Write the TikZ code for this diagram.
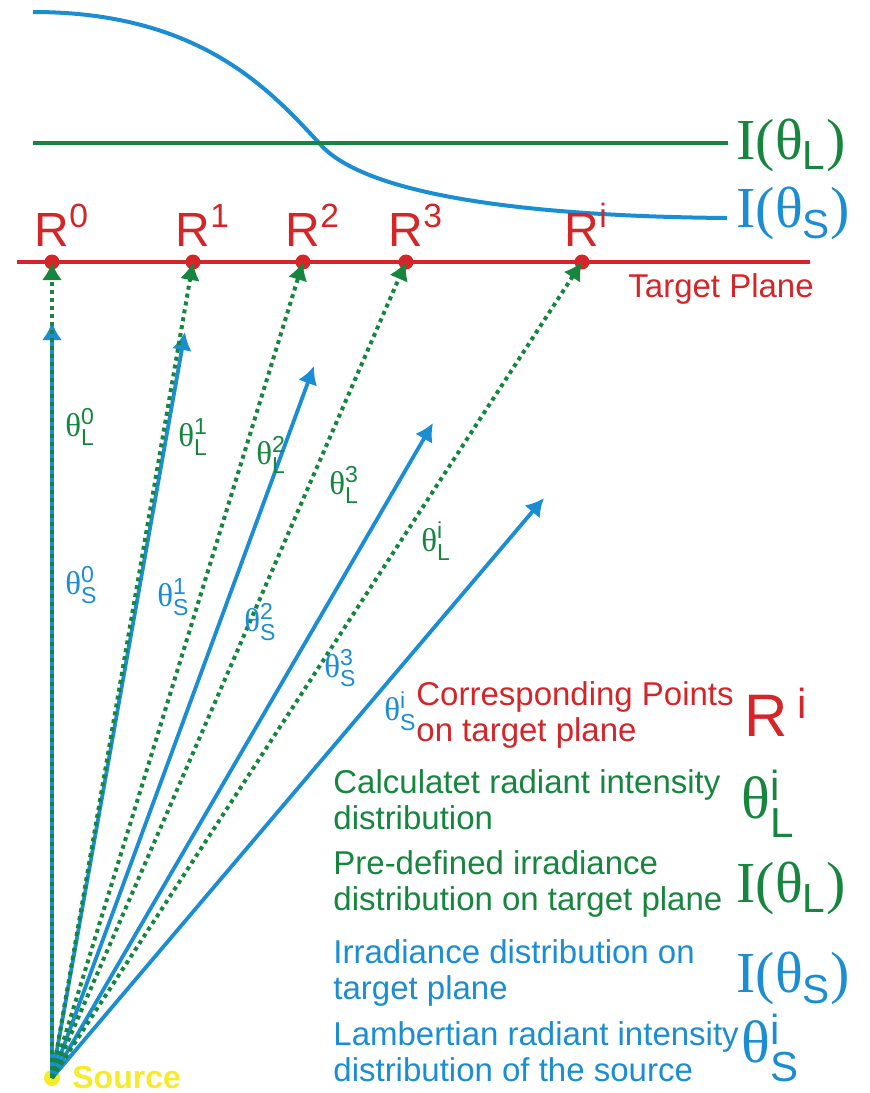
\documentclass[tikz,border=0pt]{standalone}
\usepackage{fontspec}
\usepackage{amsmath}
\setmainfont{Liberation Sans}
\setsansfont{Liberation Sans}
\newfontfamily\serifgr{Liberation Serif}
\usetikzlibrary{arrows.meta}
\definecolor{planered}{RGB}{212,38,40}
\definecolor{lgreen}{RGB}{22,134,62}
\definecolor{sblue}{RGB}{27,141,210}
\definecolor{srcyellow}{RGB}{245,235,40}
% angle with index and kind, irradiance symbol
\newcommand{\ang}[2]{{\serifgr θ}$^{\text{#2}}_{\text{#1}}$}
\newcommand{\irr}[1]{{\serifgr I(θ}$_{\text{#1}}${\serifgr )}}
\begin{document}
\begin{tikzpicture}[x=0.5pt, y=-0.5pt, >=Latex,
    font=\fontsize{16.5}{18}\selectfont,
    ray/.style={sblue, line width=1.9pt, -{Latex[length=9pt,width=10pt]}},
    proj/.style={lgreen, line width=2pt, dash pattern=on 2pt off 2pt, -{Latex[length=9pt,width=10pt]}},
    hit/.style={circle, fill=planered, inner sep=0pt, minimum size=7.5pt},
    rlab/.style={planered, font=\fontsize{24}{26}\selectfont, anchor=base, inner sep=0pt},
    biglab/.style={anchor=west, inner sep=0pt, font=\fontsize{29}{30}\selectfont},
    anglab/.style={anchor=west, inner sep=0pt},
    legtext/.style={anchor=west, align=left, inner sep=0pt}]
  \useasboundingbox (0,0) rectangle (869,1093);
  % irradiance curves
  \draw[sblue, line width=2pt] (33,12) .. controls (200,12) and (270,90) .. (320,144)
    .. controls (360,190) and (500,216) .. (727,218);
  \draw[lgreen, line width=2pt] (33,143) -- (728,143);
  \node[biglab, lgreen] (irrL) at (736,145) {\irr{L}};
  \node[biglab, sblue] (irrS) at (736,213) {\irr{S}};
  % target plane with points
  \draw[planered, line width=2pt] (17,262) -- (810,262);
  \foreach \n/\x in {0/52, 1/193, 2/303, 3/406, i/582} {
    \node[hit] (r\n) at (\x,262) {};
    \node[rlab] (rl\n) at (\x,246) {R\rlap{$^{\text{\n}}$}};
  }
  \node[planered, anchor=base west, inner sep=0pt] (plane) at (628,297) {Target Plane};
  % source and rays
  \node[circle, fill=srcyellow, inner sep=0pt, minimum size=8pt] (src) at (52,1078) {};
  \node[srcyellow, anchor=west, inner sep=0pt, font=\fontsize{16}{18}\selectfont\bfseries] (srclab) at (72,1077) {Source};
  \coordinate (t0) at (52,322);
  \coordinate (t1) at (185,332);
  \coordinate (t2) at (314,366);
  \coordinate (t3) at (433,423);
  \coordinate (ti) at (544,498);
  \foreach \n in {0,1,2,3,i}
    \draw[ray] (src.center) -- (t\n);
  \foreach \n in {0,1,2,3,i}
    \draw[proj] (src.center) -- (r\n.center);
  % angle labels
  \node[anglab, lgreen] (aL0) at (65,427) {\ang{L}{0}};
  \node[anglab, sblue] (aS0) at (65,585) {\ang{S}{0}};
  \node[anglab, lgreen] (aL1) at (178,437) {\ang{L}{1}};
  \node[anglab, sblue] (aS1) at (157,597) {\ang{S}{1}};
  \node[anglab, lgreen] (aL2) at (256,455) {\ang{L}{2}};
  \node[anglab, sblue] (aS2) at (244,622) {\ang{S}{2}};
  \node[anglab, lgreen] (aL3) at (329,485) {\ang{L}{3}};
  \node[anglab, sblue] (aS3) at (324,668) {\ang{S}{3}};
  \node[anglab, lgreen] (aLi) at (421,541) {\ang{L}{i}};
  \node[anglab, sblue] (aSi) at (384,711) {\ang{S}{i}};
  % legend
  \node[legtext, planered] (legR) at (416,715) {Corresponding Points\\on target plane};
  \node[legtext, lgreen] (legL) at (333,800) {Calculatet radiant intensity\\distribution};
  \node[legtext, lgreen] (legIL) at (333,884) {Pre-defined irradiance\\distribution on target plane};
  \node[legtext, sblue] (legIS) at (333,973) {Irradiance distribution on\\target plane};
  \node[legtext, sblue] (legS) at (333,1052) {Lambertian radiant intensity\\distribution of the source};
  \node[biglab, planered, font=\fontsize{30}{32}\selectfont] (symR) at (744,712) {R\,$^{\text{i}}$};
  \node[biglab, lgreen, font=\fontsize{30}{32}\selectfont] (symL) at (741,804) {\ang{L}{i}};
  \node[biglab, lgreen] (symIL) at (736,888) {\irr{L}};
  \node[biglab, sblue] (symIS) at (736,978) {\irr{S}};
  \node[biglab, sblue, font=\fontsize{30}{32}\selectfont] (symS) at (741,1048) {\ang{S}{i}};
\end{tikzpicture}
\end{document}
